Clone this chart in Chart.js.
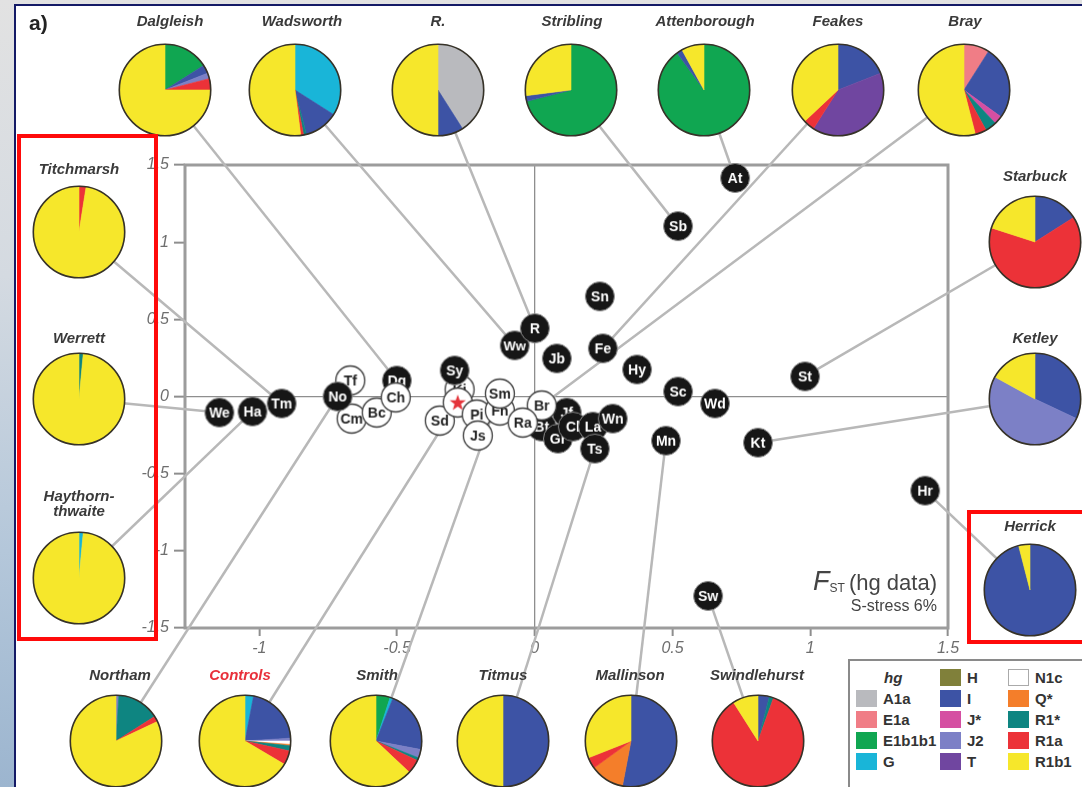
<!DOCTYPE html>
<html>
<head>
<title>FST (hg data)</title>
<script src="https://cdn.jsdelivr.net/npm/chart.js"></script>
<style>
  body { margin: 0; width: 1082px; height: 787px; overflow: hidden; position: relative;
         font-family: "Liberation Sans", Arial, sans-serif;
         background: linear-gradient(180deg, #e2e2e2 0%, #d4dae1 35%, #b4c7da 70%, #9cb5cf 100%); }
  #panel { position: absolute; left: 14px; top: 4px; right: 0; bottom: 0; background: #fff;
           border-left: 2px solid #141a66; border-top: 2px solid #141a66; }
  #main { position: absolute; left: 0; top: 0; }
  .pie { position: absolute; }
  .lab { position: absolute; transform: translate(-50%, -50%); font-weight: bold; font-style: italic;
         font-size: 15px; color: #3a3a3a; white-space: nowrap; text-align: center; line-height: 15px; }
  .redbox { position: absolute; border: 4px solid #ff0a0a; box-sizing: border-box; }
  #tag { position: absolute; left: 29px; top: 11px; font-size: 21px; font-weight: bold; color: #222; }
  #fst { position: absolute; right: 145px; top: 566px; text-align: right; color: #444; }
  #fst .big { font-size: 22px; }
  #fst .f { font-style: italic; font-size: 27px; }
  #fst sub { font-size: 12px; vertical-align: -2px; margin-right: 4px; }
  #fst .small { font-size: 16px; }
  #legend { position: absolute; left: 848px; top: 659px; width: 240px; height: 140px; background: #fff;
            border: 2px solid #8a8a8a; box-sizing: border-box; }
  .lg { position: absolute; font-size: 15px; font-weight: bold; color: #333; line-height: 17px; }
  .sw { position: absolute; width: 21px; height: 17px; }
</style>
</head>
<body>
<div id="panel"></div>
<canvas id="main" width="1082" height="787"></canvas>
<div id="tag">a)</div>
<div id="fst"><div class="big"><span class="f">F</span><sub>ST</sub>(hg data)</div><div class="small">S-stress 6%</div></div>
<div id="legend"></div>

<script>
// axis ticks
const xTicks = [-1, -0.5, 0, 0.5, 1, 1.5];
const yTicks = [-1.5, -1, -0.5, 0, 0.5, 1, 1.5];

// MDS points, listed back to front (star = controls)
const ptLabels = ['Tf', 'Cm', 'Bc', 'Dg', 'Ch', 'No', 'We', 'Ha', 'Tm',
                  'Ki', 'Sy', 'Sd', '★', 'Pi', 'Fn', 'Js', 'Sm',
                  'Bt', 'Jf', 'Gr', 'Cl', 'La', 'Wn', 'Ts', 'Br', 'Ra',
                  'Ww', 'R', 'Jb', 'Sn', 'Fe', 'Hy', 'Sc', 'Wd', 'St', 'Kt', 'Hr', 'Mn', 'Sw', 'At', 'Sb'];
const ptX = [-0.67, -0.665, -0.574, -0.501, -0.505, -0.716, -1.145, -1.025, -0.919,
             -0.273, -0.291, -0.345, -0.28, -0.211, -0.127, -0.207, -0.127,
             0.025, 0.116, 0.084, 0.138, 0.211, 0.283, 0.218, 0.025, -0.044,
             -0.073, 0.0, 0.08, 0.236, 0.247, 0.371, 0.52, 0.654, 0.981, 0.81, 1.417, 0.476, 0.629, 0.727, 0.52];
const ptY = [0.104, -0.143, -0.104, 0.104, -0.006, 0.0, -0.104, -0.097, -0.045,
             0.045, 0.169, -0.156, -0.039, -0.117, -0.091, -0.253, 0.019,
             -0.195, -0.104, -0.273, -0.195, -0.195, -0.143, -0.338, -0.058, -0.169,
             0.331, 0.442, 0.247, 0.649, 0.312, 0.175, 0.032, -0.045, 0.13, -0.299, -0.61, -0.286, -1.292, 1.416, 1.104];
const ptDark = [0, 0, 0, 1, 0, 1, 1, 1, 1,
                0, 1, 0, 0, 0, 0, 0, 0,
                1, 1, 1, 1, 1, 1, 1, 0, 0,
                1, 1, 1, 1, 1, 1, 1, 1, 1, 1, 1, 1, 1, 1, 1];

// haplogroups
const hgNames = ['A1a', 'E1a', 'E1b1b1', 'G', 'H', 'I', 'J*', 'J2', 'T', 'N1c', 'Q*', 'R1*', 'R1a', 'R1b1'];
const hgColors = ['#b9babe', '#f07d86', '#10a651', '#19b5d8', '#80803a', '#3d53a5', '#d54fa2', '#7c80c6',
                  '#7046a0', '#ffffff', '#f47e2a', '#0e8581', '#ec3238', '#f6e72b'];

// surname pies (% of each hg, clockwise from top)
const pieNames = ['Dalgleish', 'Wadsworth', 'R.', 'Stribling', 'Attenborough', 'Feakes', 'Bray',
                  'Titchmarsh', 'Werrett', 'Haythorn-thwaite', 'Starbuck', 'Ketley', 'Herrick',
                  'Northam', 'Controls', 'Smith', 'Titmus', 'Mallinson', 'Swindlehurst'];
const pieLinks = ['Dg', 'Ww', 'R', 'Sb', 'At', 'Fe', 'Br', 'Tm', 'We', 'Ha', 'St', 'Kt', 'Hr',
                  'No', '★', 'Sm', 'Ts', 'Mn', 'Sw'];
const pieShares = [
  {E1b1b1: 16, I: 3, J2: 2, R1a: 4, R1b1: 75},
  {G: 34, I: 12, 'R1*': 1, R1a: 1, R1b1: 52},
  {A1a: 41, I: 9, R1b1: 50},
  {E1b1b1: 71, I: 2, R1b1: 27},
  {E1b1b1: 90, I: 2, R1b1: 8},
  {I: 19, T: 40, R1a: 4, R1b1: 37},
  {E1a: 9, I: 26, 'J*': 3, 'R1*': 4, R1a: 4, R1b1: 54},
  {R1a: 2.5, R1b1: 97.5},
  {'R1*': 1.5, R1b1: 98.5},
  {G: 1.5, R1b1: 98.5},
  {I: 16, R1a: 64, R1b1: 20},
  {I: 32, J2: 51, R1b1: 17},
  {I: 96, R1b1: 4},
  {J2: 1, 'R1*': 15, R1a: 2, R1b1: 82},
  {G: 3, I: 21, J2: 1, N1c: 1.2, 'Q*': 0.5, 'R1*': 1.8, R1a: 5, R1b1: 66.5},
  {E1b1b1: 5, G: 1, I: 22, J2: 3, 'R1*': 1, R1a: 5, R1b1: 63},
  {I: 50, R1b1: 50},
  {I: 53, 'Q*': 12, R1a: 4, R1b1: 31},
  {I: 4, 'R1*': 1.5, R1a: 85.5, R1b1: 9}
];

// page layout: pie centres and name positions
const pieAt = [[165, 90], [295, 90], [438, 90], [571, 90], [704, 90], [838, 90], [964, 90],
               [79, 232], [79, 399], [79, 578], [1035, 242], [1035, 399], [1030, 590],
               [116, 741], [245, 741], [376, 741], [503, 741], [631, 741], [758, 741]];
const labAt = [[170, 20], [302, 20], [438, 20], [572, 20], [705, 20], [838, 20], [965, 20],
               [79, 168], [79, 337], [79, 503], [1035, 175], [1035, 337], [1030, 525],
               [120, 674], [240, 674], [377, 674], [503, 674], [630, 674], [757, 674]];

// circle markers with their text baked in
const dotImgs = ptLabels.map((t, i) => {
  const c = document.createElement('canvas');
  c.width = 34; c.height = 34;
  const g = c.getContext('2d');
  g.beginPath();
  g.arc(17, 17, 14.5, 0, Math.PI * 2);
  g.fillStyle = ptDark[i] ? '#161616' : '#ffffff';
  g.fill();
  g.lineWidth = ptDark[i] ? 1 : 1.3;
  g.strokeStyle = ptDark[i] ? '#8a8a8a' : '#3a3a3a';
  g.stroke();
  if (t === '★') {
    g.beginPath();
    for (let k = 0; k < 10; k++) {
      const r = k % 2 ? 3.4 : 8.5, a = -Math.PI / 2 + k * Math.PI / 5;
      g.lineTo(17 + r * Math.cos(a), 17.5 + r * Math.sin(a));
    }
    g.closePath();
    g.fillStyle = '#e4343a';
    g.fill();
  } else {
    let fs = 14;
    g.font = 'bold ' + fs + 'px "Liberation Sans", Arial';
    while (g.measureText(t).width > 24 && fs > 10) { fs--; g.font = 'bold ' + fs + 'px "Liberation Sans", Arial'; }
    g.fillStyle = ptDark[i] ? '#ffffff' : '#222222';
    g.textAlign = 'center';
    g.textBaseline = 'middle';
    g.fillText(t, 17, 18);
  }
  return c;
});

const leaderLines = {
  id: 'leaderLines',
  beforeDatasetsDraw(chart) {
    const {ctx, chartArea: a, scales: {x, y}} = chart;
    ctx.save();
    ctx.strokeStyle = '#9c9c9c';
    ctx.lineWidth = 3;
    ctx.strokeRect(a.left, a.top, a.right - a.left, a.bottom - a.top);
    ctx.strokeStyle = '#b8b8b8';
    ctx.lineWidth = 2.5;
    pieLinks.forEach((lab, i) => {
      const j = ptLabels.indexOf(lab);
      ctx.beginPath();
      ctx.moveTo(pieAt[i][0], pieAt[i][1]);
      ctx.lineTo(x.getPixelForValue(ptX[j]), y.getPixelForValue(ptY[j]));
      ctx.stroke();
    });
    ctx.restore();
  }
};

const tickFont = {family: '"Liberation Sans", Arial', size: 16, style: 'italic'};
const gridOpts = {
  color: c => (c.tick && c.tick.value === 0) ? '#8e8e8e' : 'rgba(0,0,0,0)',
  lineWidth: 1.3,
  tickColor: '#8e8e8e',
  tickWidth: 2
};

new Chart(document.getElementById('main'), {
  type: 'scatter',
  data: {
    datasets: [{
      data: ptX.map((v, i) => ({x: v, y: ptY[i]})),
      pointStyle: dotImgs,
      pointRadius: 15,
      clip: false
    }]
  },
  options: {
    responsive: false,
    animation: false,
    events: [],
    layout: {padding: {left: 0, top: 165, right: 134, bottom: 0}},
    plugins: {legend: {display: false}, tooltip: {enabled: false}},
    scales: {
      x: {
        type: 'linear', min: -1.27, max: 1.5,
        afterBuildTicks: s => { s.ticks = xTicks.map(v => ({value: v})); },
        afterFit: s => { s.height = 159; },
        grid: Object.assign({tickLength: 8}, gridOpts),
        border: {display: false},
        ticks: {autoSkip: false, maxRotation: 0, padding: 3, color: '#6e6e6e', font: tickFont, callback: v => String(v)}
      },
      y: {
        type: 'linear', min: -1.5, max: 1.5,
        afterBuildTicks: s => { s.ticks = yTicks.map(v => ({value: v})); },
        afterFit: s => { s.width = 185; },
        grid: Object.assign({tickLength: 11}, gridOpts),
        border: {display: false},
        ticks: {autoSkip: false, padding: 5, color: '#6e6e6e', font: tickFont, callback: v => String(v)}
      }
    }
  },
  plugins: [leaderLines]
});

// outer ring of each pie
const pieRing = {
  id: 'pieRing',
  afterDatasetsDraw(chart) {
    const arc = chart.getDatasetMeta(0).data[0];
    const ctx = chart.ctx;
    ctx.save();
    ctx.beginPath();
    ctx.arc(arc.x, arc.y, arc.outerRadius, 0, Math.PI * 2);
    ctx.lineWidth = 1.6;
    ctx.strokeStyle = '#363228';
    ctx.stroke();
    ctx.restore();
  }
};

pieNames.forEach((name, i) => {
  const sh = pieShares[i];
  const keys = hgNames.filter(h => sh[h]);
  const cols = keys.map(k => hgColors[hgNames.indexOf(k)]);
  const box = document.createElement('div');
  box.className = 'pie';
  box.style.left = (pieAt[i][0] - 49) + 'px';
  box.style.top = (pieAt[i][1] - 49) + 'px';
  const cv = document.createElement('canvas');
  cv.width = 98; cv.height = 98;
  box.appendChild(cv);
  document.body.appendChild(box);
  new Chart(cv, {
    type: 'pie',
    data: {labels: keys, datasets: [{data: keys.map(k => sh[k]), backgroundColor: cols, borderColor: cols, borderWidth: 0.6}]},
    options: {
      responsive: false, animation: false, events: [],
      layout: {padding: 3},
      plugins: {legend: {display: false}, tooltip: {enabled: false}}
    },
    plugins: [pieRing]
  });

  const lab = document.createElement('div');
  lab.className = 'lab';
  lab.innerHTML = name.replace('-', '-<br>');
  lab.style.left = labAt[i][0] + 'px';
  lab.style.top = labAt[i][1] + 'px';
  if (name === 'Controls') lab.style.color = '#e8303a';
  document.body.appendChild(lab);
});

// haplogroup key, column-major with the "hg" title first
const legend = document.getElementById('legend');
const colX = [6, 90, 158];
const rowY = [8, 29, 50, 71, 92];
['hg'].concat(hgNames).forEach((h, k) => {
  const cx = colX[Math.floor(k / 5)], cy = rowY[k % 5];
  const t = document.createElement('div');
  t.className = 'lg';
  t.textContent = h;
  if (k === 0) {
    t.style.left = (cx + 28) + 'px';
    t.style.fontStyle = 'italic';
  } else {
    const sw = document.createElement('div');
    sw.className = 'sw';
    sw.style.left = cx + 'px';
    sw.style.top = cy + 'px';
    sw.style.background = hgColors[k - 1];
    if (h === 'N1c') sw.style.boxShadow = 'inset 0 0 0 1px #aaa';
    legend.appendChild(sw);
    t.style.left = (cx + 27) + 'px';
  }
  t.style.top = cy + 'px';
  legend.appendChild(t);
});

// highlight boxes
[[17, 134, 141, 507], [967, 510, 120, 134]].forEach(r => {
  const d = document.createElement('div');
  d.className = 'redbox';
  d.style.left = r[0] + 'px'; d.style.top = r[1] + 'px';
  d.style.width = r[2] + 'px'; d.style.height = r[3] + 'px';
  document.body.appendChild(d);
});
</script>
</body>
</html>
